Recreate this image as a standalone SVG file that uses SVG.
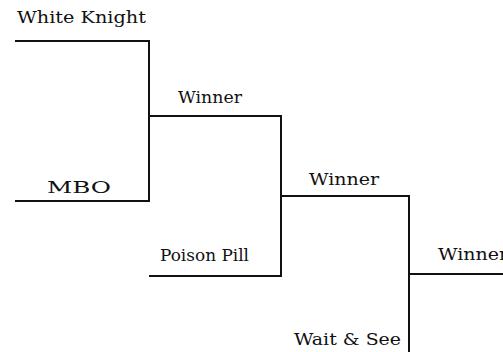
<svg xmlns="http://www.w3.org/2000/svg" width="503" height="352" viewBox="0 0 503 352">
<style>
.t{font-family:"DejaVu Serif","Liberation Serif",serif;font-size:17.5px;fill:#111}
.l{fill:none;stroke:#111;stroke-width:2;stroke-linecap:square}
</style>
<rect width="503" height="352" fill="#fff"/>
<g id="connectors">
<path class="l" d="M16 41 H149 V201 H16"/>
<path class="l" d="M149 116 H281 V276 H150"/>
<path class="l" d="M281 196 H409 V352"/>
<path class="l" d="M409 274 H503"/>
</g>
<g id="white-knight"><text class="t" x="17" y="23" textLength="129" lengthAdjust="spacingAndGlyphs">White Knight</text></g>
<g id="mbo"><text class="t" x="47" y="193" textLength="64" lengthAdjust="spacingAndGlyphs">MBO</text></g>
<g id="winner1"><text class="t" x="178" y="103" textLength="64" lengthAdjust="spacingAndGlyphs">Winner</text></g>
<g id="poison-pill"><text class="t" x="160" y="261" textLength="89" lengthAdjust="spacingAndGlyphs">Poison Pill</text></g>
<g id="winner2"><text class="t" x="309" y="185" textLength="70" lengthAdjust="spacingAndGlyphs">Winner</text></g>
<g id="winner3"><text class="t" x="438" y="260" textLength="70" lengthAdjust="spacingAndGlyphs">Winner</text></g>
<g id="wait-see"><text class="t" x="294" y="345" textLength="107" lengthAdjust="spacingAndGlyphs">Wait &amp; See</text></g>
</svg>
